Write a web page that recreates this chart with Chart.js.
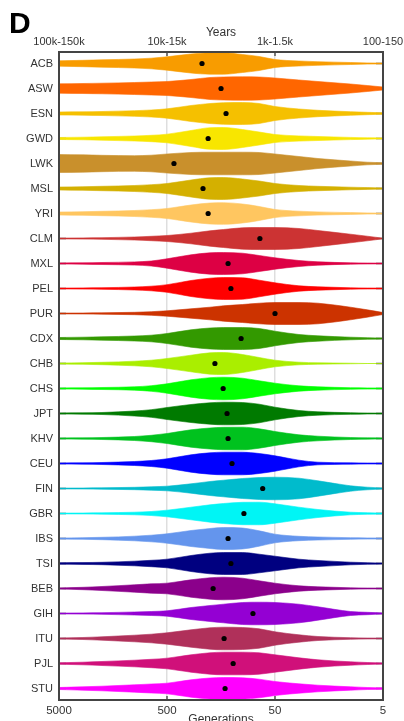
<!DOCTYPE html>
<html>
<head>
<meta charset="utf-8">
<script src="https://cdn.jsdelivr.net/npm/chart.js@4.4.1/dist/chart.umd.min.js"></script>
<style>
  html, body { margin: 0; padding: 0; background: #fff; overflow: hidden; }
  #wrap { position: relative; width: 404px; height: 740px; }
</style>
</head>
<body>
<div id="wrap"><canvas id="c"></canvas></div>
<script>
// Populations, top to bottom
const POPS = ['ACB','ASW','ESN','GWD','LWK','MSL','YRI','CLM','MXL','PEL','PUR','CDX','CHB','CHS','JPT','KHV','CEU','FIN','GBR','IBS','TSI','BEB','GIH','ITU','PJL','STU'];

// Fill colour of each population's violin
const COLORS = ['#F89C00','#FF6600','#F5C000','#F8E600','#C9902C','#D4B000','#FFC660',
                '#CC3333','#DD0044','#FF0000','#CC3300',
                '#339900','#AAEE00','#00FF00','#007A00','#00C21E',
                '#0000FF','#00BBCC','#00F5F5','#6495ED','#000080',
                '#8B008B','#9400D3','#B0305A','#D0107A','#FF00FF'];

// Mean age (generations) of each population
const MEAN_GEN = [237,158,142,208,431,232,208,69,136,128,50,103,180,151,139,136,125,65,97,136,128,187,80,148,122,145];

// Generations at which the density is sampled
const GEN = [5000,3000,2000,1000,700,500,300,200,150,100,70,50,30,20,10,7,5];

// Density profile of each population along GEN
const ACB = [2.7,3.2,3.7,4.5,5.3,6.7,9.5,10.7,10.7,9,7,4,2.5,1.8,1,0.6,0.4];
const ASW = [4.7,5,5.3,6,6.5,7,9,11,11.5,11.7,11.5,10.5,8.5,7,4.5,3,1.5];
const ESN = [1.5,1.7,2,2.8,3.5,4.7,8,10,10.8,11,10,7,4.5,3.2,1.8,1.2,0.7];
const GWD = [1,1.3,1.7,2.5,3.2,4.3,8,10.8,11,9,6.5,4,2.6,2,1.1,0.7,0.5];
const LWK = [9,8.7,8.2,7.8,8.3,9.5,11,11.3,11.3,11.3,11,9.5,7,5,2.5,1.3,0.7];
const MSL = [1.5,1.8,2.2,3,3.8,5,8.5,10.8,11,9.5,7.5,5,3,2.2,1.3,0.9,0.6];
const YRI = [1.5,1.8,2.2,3,3.8,5,8.5,10.5,10.8,9.5,7,4,2.3,1.6,0.9,0.6,0.4];
const CLM = [0.4,0.6,0.8,1.5,2.2,3,5.3,7.7,9,10.7,11,11,10,8,4.3,2.3,0.3];
const MXL = [0.5,0.7,1,1.6,2.5,4.7,8.7,10.7,11,10.3,8,5.7,3,1.7,0.7,0.5,0.4];
const PEL = [0.4,0.6,0.8,1.5,2.3,3.8,8,10.3,11,10.7,8.3,5.7,2.7,1.7,0.7,0.5,0.4];
const PUR = [0.4,0.5,0.7,1.2,1.8,2.7,4.7,6.3,7.7,9,10.3,11,11,10.3,6.3,3.7,1];
const CDX = [1,1.3,1.7,2.5,3.3,5,8.7,10.5,11,11,10,7.3,4,2.7,1.3,0.8,0.5];
const CHB = [0.5,0.8,1.2,2.3,3.3,5,8.3,10.7,11,9,6,3.3,1.3,0.7,0.3,0,0];
const CHS = [0.5,0.7,1,1.7,2.8,4.7,8.7,10.8,11.3,10.3,7.7,5.3,2.7,1.7,0.8,0.6,0.5];
const JPT = [0.5,0.7,1,2.5,3.8,6,9,10.7,11.3,11,9.3,6.3,3,1.7,0.8,0.5,0.4];
const KHV = [0.5,0.7,1,2,3.2,5,8.7,10.5,11.2,11.3,9.7,7,3.7,2.3,1,0.7,0.5];
const CEU = [0.5,0.7,1,2,3,4.7,8.7,10.7,11.3,11.3,10,7.7,3.3,1.3,0.7,0.5,0.5];
const FIN = [0.4,0.5,0.7,1.2,1.7,2.3,4.7,7,8.3,10,11,11.3,10.3,7.7,2.7,1.3,0.5];
const GBR = [0.4,0.5,0.7,1.3,2,3.3,6.3,8.7,10,11.2,11.3,9.7,6.3,4,1.3,0.8,0.5];
const IBS = [0.5,0.8,1.2,2.3,3.3,4.7,8,10,11,10.5,7.7,4.3,2.2,1.5,0.8,0.6,0.5];
const TSI = [0.7,0.9,1.2,2.3,3.2,4.3,8,10.3,11,11,9.3,7.3,4.3,3,1.3,0.8,0.5];
const BEB = [0.5,1.2,2,3.7,4.7,5.3,8.7,10.7,11.3,10.3,7.7,5.3,2.7,1.7,0.7,0.5,0.4];
const GIH = [0.4,0.6,0.8,1.5,2,2.7,6,8,9.3,11,11.3,11,9.3,6.7,2,1.2,0.5];
const ITU = [0.5,1,1.7,3.3,4.3,5.7,8.7,10.7,11.3,11,9.7,6.7,3.7,2,0.8,0.5,0.4];
const PJL = [0.7,1.3,2,3.3,4.2,5.3,8.7,10.7,11.3,11.3,10.7,8.7,5.7,3.7,1.7,1,0.6];
const STU = [1,1.7,2.3,3.7,4.5,5.3,8.7,10.5,11,10.7,9.3,7,4.7,3.3,1.7,1,0.7];

const DENSITY = [ACB,ASW,ESN,GWD,LWK,MSL,YRI,CLM,MXL,PEL,PUR,CDX,CHB,CHS,JPT,KHV,CEU,FIN,GBR,IBS,TSI,BEB,GIH,ITU,PJL,STU];

// Axis ticks: generations (bottom) and the matching years (top)
const GEN_TICKS = [5000, 500, 50, 5];
const YEAR_LABELS = ['100k-150k', '10k-15k', '1k-1.5k', '100-150'];

// Converts density units into a half-width measured in rows
const ROW_SCALE = 0.04;
const FONT = "'Liberation Sans', Arial, Helvetica, sans-serif";

const datasets = [];
POPS.forEach((pop, i) => {
  const dens = DENSITY[i];
  const common = {
    borderColor: COLORS[i],
    backgroundColor: COLORS[i],
    borderWidth: 0.6,
    pointRadius: 0,
    cubicInterpolationMode: 'monotone',
    order: 1
  };
  datasets.push(Object.assign({
    label: pop + ' upper',
    data: GEN.map((g, j) => ({ x: g, y: i - dens[j] * ROW_SCALE })),
    fill: false
  }, common));
  datasets.push(Object.assign({
    label: pop + ' lower',
    data: GEN.map((g, j) => ({ x: g, y: i + dens[j] * ROW_SCALE })),
    fill: '-1'
  }, common));
});
// Mean markers, drawn above every violin
datasets.push({
  label: 'mean',
  data: POPS.map((p, i) => ({ x: MEAN_GEN[i], y: i })),
  showLine: false,
  pointRadius: 2.6,
  pointBackgroundColor: '#000',
  pointBorderWidth: 0,
  borderColor: '#000',
  order: 0
});

// Frame, inward tick marks and the panel letter
const framePlugin = {
  id: 'frame',
  beforeDatasetsDraw(chart) {
    const { ctx, chartArea: a, scales } = chart;
    ctx.save();
    ctx.strokeStyle = '#555';
    ctx.lineWidth = 1.5;
    ctx.beginPath();
    POPS.forEach((p, i) => {
      const py = scales.y.getPixelForValue(i);
      ctx.moveTo(a.left, py); ctx.lineTo(a.left + 7, py);
      ctx.moveTo(a.right - 7, py); ctx.lineTo(a.right, py);
    });
    GEN_TICKS.slice(1, -1).forEach(v => {
      const px = scales.x.getPixelForValue(v);
      ctx.moveTo(px, a.top); ctx.lineTo(px, a.top + 4);
      ctx.moveTo(px, a.bottom); ctx.lineTo(px, a.bottom - 4);
    });
    ctx.stroke();
    ctx.restore();
  },
  afterDatasetsDraw(chart) {
    const { ctx, chartArea: a } = chart;
    ctx.save();
    ctx.strokeStyle = '#444';
    ctx.lineWidth = 2;
    ctx.strokeRect(a.left, a.top, a.right - a.left, a.bottom - a.top);
    ctx.restore();
  },
  afterDraw(chart) {
    const ctx = chart.ctx;
    ctx.save();
    ctx.fillStyle = '#000';
    ctx.font = 'bold 30px ' + FONT;
    ctx.textBaseline = 'alphabetic';
    ctx.textAlign = 'left';
    ctx.fillText('D', 9, 33);
    ctx.restore();
  }
};

const setGenTicks = scale => { scale.ticks = GEN_TICKS.map(v => ({ value: v })); };
const fitX = h => s => { s.height = h; s.paddingLeft = 0; s.paddingRight = 0; };

new Chart(document.getElementById('c'), {
  type: 'line',
  data: { datasets },
  plugins: [framePlugin],
  options: {
    responsive: true,
    maintainAspectRatio: false,
    animation: false,
    layout: { padding: { left: 0, right: 21, top: 0, bottom: 0 } },
    plugins: { legend: { display: false }, tooltip: { enabled: false }, title: { display: false } },
    scales: {
      x: {
        type: 'logarithmic',
        position: 'bottom',
        reverse: true,
        min: 5, max: 5000,
        afterBuildTicks: setGenTicks,
        afterFit: fitX(40),
        border: { display: false },
        grid: { color: 'rgba(0,0,0,0.13)', lineWidth: 1.5, drawTicks: false },
        ticks: {
          autoSkip: false, maxRotation: 0, padding: 4, color: '#333',
          font: { family: FONT, size: 11.5 },
          callback: v => String(v)
        },
        title: {
          display: true, text: 'Generations', color: '#333',
          font: { family: FONT, size: 12 },
          padding: { top: 0, bottom: 13 }
        }
      },
      x2: {
        type: 'logarithmic',
        position: 'top',
        reverse: true,
        min: 5, max: 5000,
        afterBuildTicks: setGenTicks,
        afterFit: fitX(52),
        border: { display: false },
        grid: { display: false, drawTicks: false },
        ticks: {
          autoSkip: false, maxRotation: 0, padding: 3, color: '#333',
          font: { family: FONT, size: 11 },
          callback: v => YEAR_LABELS[GEN_TICKS.indexOf(v)]
        },
        title: {
          display: true, text: 'Years', color: '#333',
          font: { family: FONT, size: 12 },
          padding: { top: 25, bottom: 0 }
        }
      },
      y: {
        type: 'linear',
        reverse: true,
        min: -0.46, max: 25.46,
        afterBuildTicks: scale => { scale.ticks = POPS.map((p, i) => ({ value: i })); },
        afterFit: s => { s.width = 59; },
        border: { display: false },
        grid: { display: false, drawTicks: false },
        ticks: {
          autoSkip: false, padding: 6, color: '#333',
          font: { family: FONT, size: 11 },
          callback: v => POPS[v]
        }
      }
    }
  }
});
</script>
</body>
</html>
